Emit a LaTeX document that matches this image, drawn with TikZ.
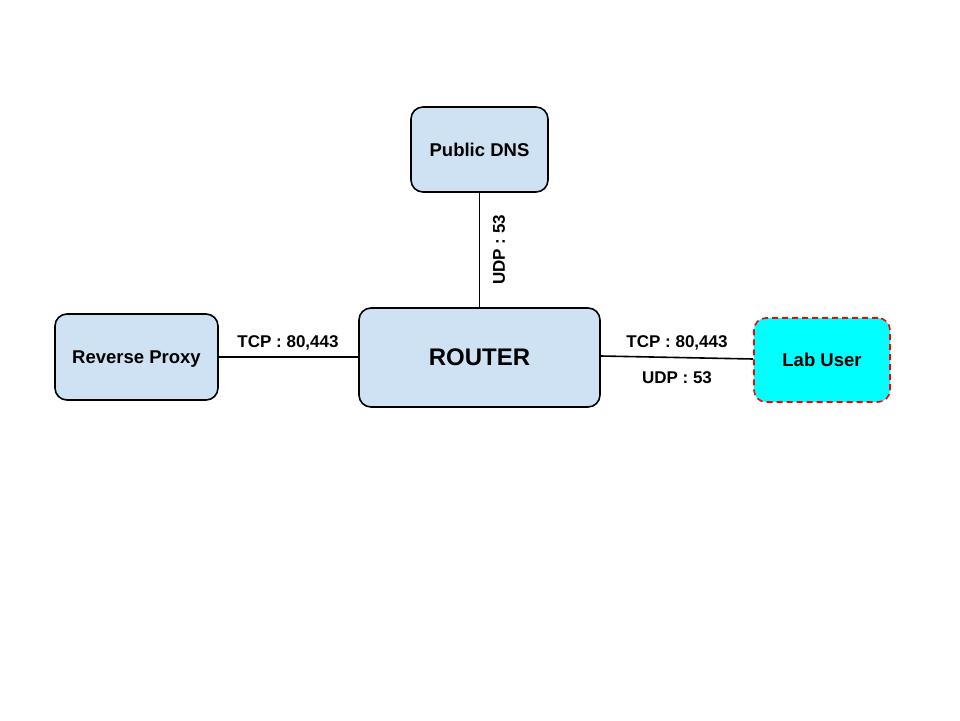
\documentclass[tikz,border=0pt]{standalone}
\usepackage{fontspec}
\setmainfont{Liberation Sans}
\usepackage{tikz}
\usetikzlibrary{calc,positioning}
\definecolor{boxblue}{HTML}{CFE2F3}
\definecolor{labcyan}{HTML}{00FFFF}
\tikzset{
  netbox/.style={draw=black, line width=1.6pt, fill=boxblue, rounded corners=12pt, font=\bfseries\fontsize{18.5}{20}\selectfont, align=center, inner sep=0pt, text depth=0pt},
  userbox/.style={netbox, draw=red, dash pattern=on 6pt off 4pt, fill=labcyan},
  portlabel/.style={font=\bfseries\fontsize{17}{19}\selectfont, inner sep=1pt},
  link/.style={draw=black, line width=1.6pt}
}
\begin{document}
\begin{tikzpicture}[x=1pt, y=-1pt]
				 %\draw[color=gray,step=10pt, help lines,opacity=0.3] (0,0) grid (960,720); %help grids
				 \useasboundingbox (0,0) rectangle (960,720);
				 % Drawing the boxes
				 \node[netbox, minimum width=137pt, minimum height=85pt] (dns) at (479.5,149.5) {Public DNS};
				 \node[netbox, minimum width=163pt, minimum height=86pt] (proxy) at (136.5,357) {Reverse Proxy};
				 \node[netbox, minimum width=241pt, minimum height=99pt, font=\bfseries\fontsize{24}{26}\selectfont] (router) at (479.5,357.5) {ROUTER};
				 \node[userbox, minimum width=136pt, minimum height=84pt] (labuser) at (822,360) {Lab User};
				 % lines...
				 \draw[link] (dns.south) -- (router.north);
				 \draw[link] (proxy.east) -- (proxy.east -| router.west);
				 \draw[link] ($(router.east)+(0,-1.5)$) -- ($(labuser.west)+(0,-1)$);
				 % port labels
				 \node[portlabel] (tcpleft) at (288,343) {TCP : 80,443};
				 \node[portlabel, rotate=90] (udpdns) at (499,250) {UDP : 53};
				 \node[portlabel] (tcpright) at (677,343) {TCP : 80,443};
				 \node[portlabel] (udpright) at (677,378) {UDP : 53};
\end{tikzpicture}
\end{document}
